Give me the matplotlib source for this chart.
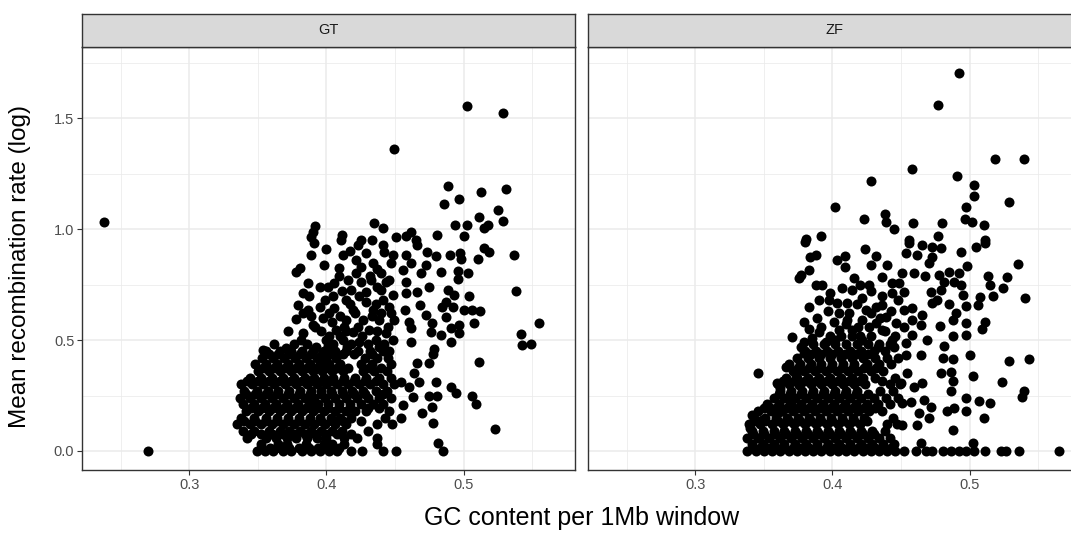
import matplotlib
matplotlib.use("Agg")
import matplotlib.pyplot as plt
from matplotlib.ticker import MultipleLocator
import numpy as np

plt.rcParams["font.family"] = ["Liberation Sans", "DejaVu Sans"]

# ---------------- data: GC content vs mean recombination rate (log) ----------------
panels = ["GT", "ZF"]
x_ticks = [0.3, 0.4, 0.5]
y_ticks = [0.0, 0.5, 1.0, 1.5]

gt_gc = [
    0.238, 0.270, 0.4495, 0.5025, 0.529,
    0.392, 0.390, 0.389, 0.435, 0.4415, 0.411, 0.4255, 0.4335, 0.451,
    0.489, 0.4856, 0.497, 0.5127, 0.5307, 0.525, 0.5287, 0.511, 0.5176, 0.515, 0.4936, 0.5025, 0.5004, 0.4805, 0.4618, 0.458, 0.465,
    0.5367, 0.5384, 0.555, 0.5416, 0.5428, 0.5496, 0.515, 0.5185, 0.5105, 0.4975, 0.490, 0.498, 0.496, 0.503, 0.496, 0.4834,
    0.480, 0.4737, 0.4664, 0.458, 0.4616, 0.4725, 0.4689, 0.4555, 0.458, 0.475, 0.4664, 0.458, 0.489, 0.493, 0.504, 0.487,
    0.4846, 0.492, 0.5004, 0.5064, 0.5118, 0.5076, 0.487, 0.4725, 0.468, 0.457, 0.4604, 0.4616, 0.4773, 0.4761, 0.4834, 0.4907,
    0.4967, 0.4967, 0.4907, 0.4616, 0.4785,
    0.5113, 0.5229, 0.4817, 0.4853, 0.478, 0.475, 0.4664, 0.464, 0.4676, 0.4798, 0.4907, 0.4948, 0.506, 0.5093, 0.481, 0.475,
    0.4604, 0.4628, 0.4543, 0.4555, 0.4773, 0.470, 0.478, 0.4543,
    0.378, 0.381, 0.389, 0.391, 0.3864, 0.3828, 0.395, 0.4058, 0.401, 0.379, 0.3864, 0.395, 0.378, 0.390, 0.3828, 0.3816,
    0.4058, 0.4095, 0.4119, 0.4107, 0.4228, 0.4289, 0.4216, 0.4337, 0.4422, 0.4482, 0.4216, 0.4325, 0.4434, 0.418, 0.4289,
    0.4398, 0.4482, 0.4143, 0.4289, 0.4191, 0.4337, 0.4458, 0.4143, 0.4264, 0.4385, 0.4495, 0.407, 0.4191, 0.4313, 0.4434,
    0.3998, 0.4119, 0.424, 0.4361, 0.4482, 0.3925, 0.3707, 0.3537,
    0.4045, 0.4240, 0.4410, 0.4100, 0.4330, 0.4450, 0.4130, 0.4020, 0.4260, 0.4380, 0.4150, 0.4010, 0.4460, 0.4320, 0.4160,
    0.4400, 0.4250, 0.4470, 0.3975, 0.3890, 0.4100,
    0.362, 0.376, 0.386, 0.405, 0.418, 0.430, 0.442,
    0.372, 0.396, 0.414, 0.437,
    0.383, 0.402, 0.421, 0.440,
    0.392, 0.404, 0.417, 0.436, 0.447, 0.423, 0.399, 0.411, 0.437, 0.425, 0.446, 0.409, 0.398, 0.437, 0.417, 0.441,
    0.400, 0.387,
    # dense band below 0.45
    0.349, 0.355, 0.361, 0.368, 0.374, 0.382, 0.389, 0.395, 0.402, 0.408, 0.418, 0.426, 0.441, 0.451,
    0.352, 0.359, 0.366, 0.373, 0.380, 0.387, 0.394, 0.401, 0.409,
    0.352, 0.365, 0.371, 0.385, 0.398, 0.404, 0.413, 0.437,
    0.342, 0.356, 0.363, 0.371, 0.378, 0.386, 0.393, 0.400, 0.413, 0.422, 0.437,
    0.345, 0.352, 0.360, 0.368, 0.376, 0.384, 0.392, 0.400, 0.408, 0.418,
    0.339, 0.347, 0.358, 0.366, 0.373, 0.381, 0.389, 0.396, 0.404, 0.411, 0.430,
    0.335, 0.344, 0.352, 0.360, 0.368, 0.376, 0.384, 0.391, 0.399, 0.406, 0.414, 0.437, 0.448,
    0.340, 0.348, 0.356, 0.364, 0.372, 0.380, 0.388, 0.396, 0.404, 0.412, 0.425,
    0.338, 0.347, 0.356, 0.364, 0.372, 0.380, 0.388, 0.395, 0.403, 0.410, 0.418, 0.443,
    0.341, 0.350, 0.358, 0.366, 0.374, 0.382, 0.390, 0.398, 0.406, 0.414, 0.421, 0.429, 0.446,
    0.345, 0.353, 0.361, 0.369, 0.377, 0.385, 0.393, 0.401, 0.409, 0.417, 0.430, 0.438,
    0.339, 0.347, 0.355, 0.363, 0.371, 0.379, 0.387, 0.394, 0.401, 0.409, 0.417, 0.425, 0.434, 0.441,
    0.337, 0.344, 0.352, 0.360, 0.368, 0.376, 0.384, 0.391, 0.399, 0.406, 0.414, 0.422, 0.430, 0.438, 0.447,
    0.341, 0.348, 0.356, 0.364, 0.372, 0.380, 0.388, 0.396, 0.404, 0.412, 0.420, 0.428, 0.441,
    0.340, 0.349, 0.357, 0.365, 0.373, 0.381, 0.389, 0.396, 0.403, 0.411, 0.419, 0.427, 0.436, 0.444,
    0.338, 0.346, 0.354, 0.362, 0.370, 0.378, 0.386, 0.393, 0.400, 0.408, 0.416, 0.424, 0.432, 0.441, 0.449,
    0.342, 0.350, 0.358, 0.366, 0.374, 0.382, 0.389, 0.397, 0.404, 0.412, 0.420, 0.428, 0.436,
    0.344, 0.352, 0.360, 0.368, 0.376, 0.384, 0.391, 0.398, 0.405, 0.413, 0.421, 0.429, 0.438, 0.447,
    0.350, 0.358, 0.366, 0.374, 0.382, 0.390, 0.397, 0.404, 0.412, 0.427, 0.435, 0.444,
    0.354, 0.362, 0.370, 0.378, 0.386, 0.393, 0.401, 0.408, 0.416, 0.431, 0.440,
    0.348, 0.356, 0.364, 0.372, 0.380, 0.388, 0.395, 0.402, 0.410, 0.425, 0.433, 0.447,
    0.353, 0.361, 0.369, 0.377, 0.385, 0.393, 0.400, 0.407, 0.428, 0.437, 0.445,
    0.358, 0.365, 0.373, 0.381, 0.389, 0.397, 0.404, 0.412, 0.420, 0.433,
    0.356, 0.366, 0.374, 0.382, 0.390, 0.398, 0.406, 0.414, 0.423, 0.432, 0.441,
]
gt_rec = [
    1.030, 0.000, 1.360, 1.555, 1.524,
    1.014, 0.986, 0.964, 1.027, 1.004, 0.973, 0.950, 0.950, 0.964,
    1.195, 1.114, 1.137, 1.168, 1.180, 1.084, 1.037, 1.054, 1.018, 1.003, 1.018, 1.018, 0.970, 0.973, 0.988, 0.968, 0.950,
    0.883, 0.719, 0.578, 0.526, 0.477, 0.482, 0.913, 0.895, 0.865, 0.893, 0.883, 0.863, 0.812, 0.800, 0.773, 0.808,
    0.878, 0.898, 0.928, 0.883, 0.845, 0.838, 0.800, 0.815, 0.763, 0.740, 0.718, 0.710, 0.725, 0.703, 0.698, 0.672,
    0.650, 0.650, 0.635, 0.635, 0.632, 0.578, 0.605, 0.613, 0.658, 0.635, 0.583, 0.553, 0.575, 0.537, 0.523, 0.553,
    0.568, 0.530, 0.492, 0.492, 0.458,
    0.400, 0.098, 0.037, 0.000, 0.437, 0.395, 0.395, 0.350, 0.309, 0.309, 0.287, 0.260, 0.249, 0.212, 0.249, 0.249,
    0.290, 0.245, 0.312, 0.207, 0.200, 0.170, 0.128, 0.147,
    0.805, 0.823, 0.883, 0.935, 0.758, 0.713, 0.740, 0.755, 0.740, 0.658, 0.635, 0.650, 0.593, 0.568, 0.530, 0.500,
    0.643, 0.823, 0.883, 0.950, 0.928, 0.890, 0.860, 0.845, 0.898, 0.883, 0.800, 0.770, 0.763, 0.725, 0.718,
    0.725, 0.703, 0.680, 0.672, 0.635, 0.635, 0.650, 0.590, 0.590, 0.590, 0.590, 0.545, 0.537, 0.545, 0.530,
    0.500, 0.500, 0.492, 0.500, 0.500, 0.470, 0.463, 0.455,
    0.700, 0.700, 0.680, 0.610, 0.610, 0.560, 0.560, 0.520, 0.520, 0.470, 0.470, 0.475, 0.450, 0.790, 0.770,
    0.800, 0.830, 0.845, 0.600, 0.610, 0.520,
    0.480, 0.480, 0.480, 0.480, 0.480, 0.480, 0.480,
    0.540, 0.540, 0.540, 0.540,
    0.620, 0.620, 0.620, 0.620,
    0.560, 0.580, 0.660, 0.660, 0.620, 0.560, 0.680, 0.720, 0.740, 0.760, 0.770, 0.790, 0.840, 0.820, 0.900, 0.930,
    0.910, 0.700,
    0.000, 0.000, 0.000, 0.000, 0.000, 0.000, 0.000, 0.000, 0.000, 0.000, 0.000, 0.000, 0.000, 0.000,
    0.015, 0.015, 0.015, 0.015, 0.015, 0.015, 0.015, 0.015, 0.015,
    0.030, 0.030, 0.030, 0.030, 0.030, 0.030, 0.030, 0.030,
    0.060, 0.060, 0.060, 0.060, 0.060, 0.060, 0.060, 0.060, 0.060, 0.060, 0.060,
    0.075, 0.075, 0.075, 0.075, 0.075, 0.075, 0.075, 0.075, 0.075, 0.075,
    0.090, 0.090, 0.090, 0.090, 0.090, 0.090, 0.090, 0.090, 0.090, 0.090, 0.090,
    0.120, 0.120, 0.120, 0.120, 0.120, 0.120, 0.120, 0.120, 0.120, 0.120, 0.120, 0.120, 0.120,
    0.135, 0.135, 0.135, 0.135, 0.135, 0.135, 0.135, 0.135, 0.135, 0.135, 0.135,
    0.150, 0.150, 0.150, 0.150, 0.150, 0.150, 0.150, 0.150, 0.150, 0.150, 0.150, 0.150,
    0.180, 0.180, 0.180, 0.180, 0.180, 0.180, 0.180, 0.180, 0.180, 0.180, 0.180, 0.180, 0.180,
    0.195, 0.195, 0.195, 0.195, 0.195, 0.195, 0.195, 0.195, 0.195, 0.195, 0.195, 0.195,
    0.210, 0.210, 0.210, 0.210, 0.210, 0.210, 0.210, 0.210, 0.210, 0.210, 0.210, 0.210, 0.210, 0.210,
    0.240, 0.240, 0.240, 0.240, 0.240, 0.240, 0.240, 0.240, 0.240, 0.240, 0.240, 0.240, 0.240, 0.240, 0.240,
    0.255, 0.255, 0.255, 0.255, 0.255, 0.255, 0.255, 0.255, 0.255, 0.255, 0.255, 0.255, 0.255,
    0.270, 0.270, 0.270, 0.270, 0.270, 0.270, 0.270, 0.270, 0.270, 0.270, 0.270, 0.270, 0.270, 0.270,
    0.300, 0.300, 0.300, 0.300, 0.300, 0.300, 0.300, 0.300, 0.300, 0.300, 0.300, 0.300, 0.300, 0.300, 0.300,
    0.315, 0.315, 0.315, 0.315, 0.315, 0.315, 0.315, 0.315, 0.315, 0.315, 0.315, 0.315, 0.315,
    0.330, 0.330, 0.330, 0.330, 0.330, 0.330, 0.330, 0.330, 0.330, 0.330, 0.330, 0.330, 0.330, 0.330,
    0.360, 0.360, 0.360, 0.360, 0.360, 0.360, 0.360, 0.360, 0.360, 0.360, 0.360, 0.360,
    0.375, 0.375, 0.375, 0.375, 0.375, 0.375, 0.375, 0.375, 0.375, 0.375, 0.375,
    0.390, 0.390, 0.390, 0.390, 0.390, 0.390, 0.390, 0.390, 0.390, 0.390, 0.390, 0.390,
    0.420, 0.420, 0.420, 0.420, 0.420, 0.420, 0.420, 0.420, 0.420, 0.420, 0.420,
    0.435, 0.435, 0.435, 0.435, 0.435, 0.435, 0.435, 0.435, 0.435, 0.435,
    0.450, 0.450, 0.450, 0.450, 0.450, 0.450, 0.450, 0.450, 0.450, 0.450, 0.450,
]

zf_gc = [
    0.4927, 0.4773, 0.5188, 0.5395, 0.4583, 0.4908, 0.503, 0.503, 0.5285, 0.4978, 0.4966, 0.5015, 0.5107, 0.4591, 0.4798,
    0.4771, 0.4559, 0.5115,
    0.4284, 0.402, 0.423, 0.4382, 0.4389, 0.445, 0.3804, 0.3914,
    0.5351, 0.5402, 0.5273, 0.5132, 0.5241, 0.5149, 0.5173, 0.5078, 0.5064, 0.5115, 0.5091, 0.5047, 0.5115, 0.4937, 0.4981,
    0.4559, 0.4656, 0.473, 0.4791, 0.4535, 0.462, 0.473, 0.4705, 0.4596, 0.4676, 0.451, 0.4486, 0.4523, 0.4778, 0.4852,
    0.4925, 0.4815, 0.4888, 0.4937, 0.4718, 0.4791, 0.4949, 0.4766, 0.473, 0.4852, 0.4974, 0.490, 0.4876, 0.4974, 0.4974,
    0.4876, 0.4786, 0.4815, 0.4693, 0.4645, 0.4583, 0.4583, 0.4523, 0.4523, 0.4583, 0.4535, 0.4656,
    0.5436, 0.529, 0.5395, 0.5383, 0.5234, 0.5151, 0.507, 0.5107, 0.4974, 0.4974, 0.4876, 0.4888, 0.4839, 0.5003, 0.5027,
    0.4864, 0.4791, 0.4876, 0.4864, 0.4876, 0.4803, 0.4645, 0.4535, 0.4547, 0.4596, 0.4656, 0.4498, 0.4669, 0.4718, 0.4572,
    0.451, 0.4632, 0.4705, 0.462, 0.451, 0.4645, 0.5022,
    0.4238, 0.4316, 0.440, 0.4279, 0.3877, 0.3833, 0.3799, 0.4035, 0.4091, 0.4091, 0.3828, 0.3768, 0.3755, 0.3877, 0.3925,
    0.4072, 0.4157, 0.4145, 0.4267, 0.4364, 0.4437, 0.3901, 0.3974, 0.4035, 0.4108, 0.3828, 0.4218, 0.4243, 0.4316, 0.4364,
    0.4437, 0.4218, 0.3792, 0.3706, 0.3792, 0.3901, 0.4011, 0.4108, 0.4048, 0.4145, 0.4316, 0.4389, 0.4364, 0.4462, 0.395,
    0.4218, 0.4437,
    0.3458, 0.3658, 0.3597, 0.3621, 0.3731, 0.3755, 0.3792, 0.3414, 0.3402, 0.3536, 0.3487, 0.3463, 0.3609, 0.3694,
    0.386, 0.394, 0.402, 0.410, 0.418, 0.426, 0.434, 0.442,
    0.398, 0.406, 0.414, 0.428, 0.446,
    0.392, 0.419, 0.427,
    0.383, 0.389, 0.397, 0.405, 0.412, 0.418, 0.428, 0.435, 0.443, 0.448, 0.436, 0.428, 0.420, 0.398, 0.385, 0.402,
    0.420, 0.438, 0.445, 0.377, 0.410, 0.433,
    # dense band below 0.45
    0.338, 0.344, 0.350, 0.356, 0.362, 0.368, 0.374, 0.380, 0.386, 0.392, 0.398, 0.404, 0.410, 0.416, 0.422, 0.428, 0.434,
    0.440, 0.446, 0.4523, 0.4608, 0.4681, 0.473, 0.4803, 0.4864, 0.4925, 0.4974, 0.5034, 0.5115, 0.523, 0.5266, 0.5363, 0.565,
    0.341, 0.347, 0.353, 0.359, 0.365, 0.371, 0.377, 0.383, 0.389, 0.395, 0.401, 0.407, 0.413, 0.419, 0.425, 0.431, 0.437, 0.443,
    0.341, 0.349, 0.357, 0.365, 0.373, 0.381, 0.389, 0.397, 0.405, 0.413, 0.421, 0.429, 0.437, 0.445,
    0.338, 0.346, 0.354, 0.362, 0.370, 0.378, 0.386, 0.394, 0.402, 0.410, 0.418, 0.426, 0.434, 0.442,
    0.342, 0.350, 0.358, 0.366, 0.374, 0.382, 0.390, 0.398, 0.406, 0.414, 0.422, 0.430,
    0.341, 0.349, 0.357, 0.365, 0.373, 0.381, 0.389, 0.397, 0.405, 0.413, 0.421, 0.429, 0.438,
    0.339, 0.347, 0.356, 0.364, 0.372, 0.380, 0.388, 0.396, 0.404, 0.412, 0.420, 0.440, 0.447,
    0.343, 0.351, 0.360, 0.368, 0.376, 0.384, 0.392, 0.400, 0.408, 0.416, 0.425,
    0.343, 0.351, 0.359, 0.367, 0.375, 0.383, 0.391, 0.399, 0.407, 0.415, 0.423, 0.444,
    0.346, 0.355, 0.363, 0.371, 0.379, 0.387, 0.395, 0.403, 0.411, 0.419, 0.427, 0.436,
    0.350, 0.359, 0.367, 0.375, 0.383, 0.391, 0.399, 0.407, 0.415, 0.423, 0.431,
    0.352, 0.361, 0.369, 0.377, 0.385, 0.393, 0.401, 0.409, 0.417, 0.425, 0.433, 0.442,
    0.357, 0.365, 0.373, 0.381, 0.389, 0.397, 0.405, 0.413, 0.421, 0.430, 0.439, 0.448,
    0.361, 0.369, 0.377, 0.385, 0.393, 0.401, 0.409, 0.417, 0.426,
    0.362, 0.370, 0.378, 0.386, 0.394, 0.402, 0.410, 0.418, 0.435, 0.444,
    0.360, 0.368, 0.376, 0.384, 0.392, 0.400, 0.408, 0.416, 0.424, 0.442, 0.449,
    0.364, 0.372, 0.380, 0.388, 0.396, 0.404, 0.412, 0.420, 0.436,
    0.366, 0.374, 0.382, 0.390, 0.398, 0.406, 0.414, 0.422, 0.431, 0.446,
    0.371, 0.379, 0.387, 0.395, 0.403, 0.411, 0.419, 0.428, 0.437,
    0.375, 0.383, 0.391, 0.399, 0.407, 0.415, 0.423, 0.432,
    0.368, 0.376, 0.384, 0.392, 0.400, 0.408, 0.416, 0.425, 0.434, 0.443,
    0.374, 0.382, 0.390, 0.398, 0.406, 0.414, 0.422, 0.431, 0.440, 0.448,
    0.384, 0.392, 0.400, 0.409, 0.417, 0.426,
    0.380, 0.388, 0.396, 0.404, 0.413, 0.421, 0.430, 0.438,
]
zf_rec = [
    1.704, 1.557, 1.314, 1.317, 1.272, 1.239, 1.198, 1.149, 1.123, 1.099, 1.046, 1.033, 1.017, 1.028, 1.028,
    0.968, 0.950, 0.950,
    1.216, 1.099, 1.044, 1.066, 1.033, 1.001, 0.956, 0.968,
    0.842, 0.688, 0.782, 0.788, 0.733, 0.748, 0.698, 0.695, 0.658, 0.583, 0.548, 0.920, 0.935, 0.898, 0.835,
    0.935, 0.928, 0.920, 0.913, 0.890, 0.883, 0.875, 0.845, 0.800, 0.788, 0.800, 0.755, 0.718, 0.793, 0.808,
    0.800, 0.763, 0.763, 0.748, 0.718, 0.725, 0.703, 0.680, 0.665, 0.662, 0.653, 0.620, 0.590, 0.575, 0.523,
    0.518, 0.564, 0.473, 0.500, 0.568, 0.590, 0.643, 0.635, 0.560, 0.523, 0.485, 0.613,
    0.413, 0.405, 0.272, 0.245, 0.309, 0.218, 0.227, 0.147, 0.237, 0.182, 0.095, 0.192, 0.182, 0.432, 0.339,
    0.357, 0.353, 0.317, 0.272, 0.413, 0.418, 0.432, 0.432, 0.350, 0.290, 0.305, 0.305, 0.230, 0.200, 0.222,
    0.215, 0.170, 0.147, 0.117, 0.117, 0.035, 0.035,
    0.908, 0.878, 0.838, 0.838, 0.883, 0.875, 0.943, 0.860, 0.878, 0.830, 0.815, 0.793, 0.778, 0.748, 0.748,
    0.733, 0.778, 0.725, 0.748, 0.785, 0.755, 0.680, 0.680, 0.665, 0.665, 0.650, 0.688, 0.635, 0.650, 0.658,
    0.710, 0.590, 0.583, 0.515, 0.492, 0.537, 0.583, 0.590, 0.545, 0.545, 0.575, 0.605, 0.545, 0.575, 0.492,
    0.500, 0.500,
    0.353, 0.380, 0.305, 0.282, 0.342, 0.297, 0.440, 0.162, 0.102, 0.200, 0.140, 0.057, 0.177, 0.215,
    0.480, 0.480, 0.480, 0.480, 0.480, 0.480, 0.480, 0.480,
    0.520, 0.520, 0.520, 0.520, 0.520,
    0.560, 0.560, 0.560,
    0.550, 0.600, 0.630, 0.620, 0.620, 0.660, 0.620, 0.600, 0.630, 0.680, 0.700, 0.720, 0.750, 0.710, 0.510, 0.500,
    0.520, 0.540, 0.470, 0.470, 0.570, 0.470,
    0.000, 0.000, 0.000, 0.000, 0.000, 0.000, 0.000, 0.000, 0.000, 0.000, 0.000, 0.000, 0.000, 0.000, 0.000, 0.000, 0.000,
    0.000, 0.000, 0.000, 0.000, 0.000, 0.000, 0.000, 0.000, 0.000, 0.000, 0.000, 0.000, 0.000, 0.000, 0.000, 0.000,
    0.015, 0.015, 0.015, 0.015, 0.015, 0.015, 0.015, 0.015, 0.015, 0.015, 0.015, 0.015, 0.015, 0.015, 0.015, 0.015, 0.015, 0.015,
    0.030, 0.030, 0.030, 0.030, 0.030, 0.030, 0.030, 0.030, 0.030, 0.030, 0.030, 0.030, 0.030, 0.030,
    0.060, 0.060, 0.060, 0.060, 0.060, 0.060, 0.060, 0.060, 0.060, 0.060, 0.060, 0.060, 0.060, 0.060,
    0.075, 0.075, 0.075, 0.075, 0.075, 0.075, 0.075, 0.075, 0.075, 0.075, 0.075, 0.075,
    0.090, 0.090, 0.090, 0.090, 0.090, 0.090, 0.090, 0.090, 0.090, 0.090, 0.090, 0.090, 0.090,
    0.120, 0.120, 0.120, 0.120, 0.120, 0.120, 0.120, 0.120, 0.120, 0.120, 0.120, 0.120, 0.120,
    0.135, 0.135, 0.135, 0.135, 0.135, 0.135, 0.135, 0.135, 0.135, 0.135, 0.135,
    0.150, 0.150, 0.150, 0.150, 0.150, 0.150, 0.150, 0.150, 0.150, 0.150, 0.150, 0.150,
    0.180, 0.180, 0.180, 0.180, 0.180, 0.180, 0.180, 0.180, 0.180, 0.180, 0.180, 0.180,
    0.195, 0.195, 0.195, 0.195, 0.195, 0.195, 0.195, 0.195, 0.195, 0.195, 0.195,
    0.210, 0.210, 0.210, 0.210, 0.210, 0.210, 0.210, 0.210, 0.210, 0.210, 0.210, 0.210,
    0.240, 0.240, 0.240, 0.240, 0.240, 0.240, 0.240, 0.240, 0.240, 0.240, 0.240, 0.240,
    0.255, 0.255, 0.255, 0.255, 0.255, 0.255, 0.255, 0.255, 0.255,
    0.270, 0.270, 0.270, 0.270, 0.270, 0.270, 0.270, 0.270, 0.270, 0.270,
    0.300, 0.300, 0.300, 0.300, 0.300, 0.300, 0.300, 0.300, 0.300, 0.300, 0.300,
    0.315, 0.315, 0.315, 0.315, 0.315, 0.315, 0.315, 0.315, 0.315,
    0.330, 0.330, 0.330, 0.330, 0.330, 0.330, 0.330, 0.330, 0.330, 0.330,
    0.360, 0.360, 0.360, 0.360, 0.360, 0.360, 0.360, 0.360, 0.360,
    0.375, 0.375, 0.375, 0.375, 0.375, 0.375, 0.375, 0.375,
    0.390, 0.390, 0.390, 0.390, 0.390, 0.390, 0.390, 0.390, 0.390, 0.390,
    0.420, 0.420, 0.420, 0.420, 0.420, 0.420, 0.420, 0.420, 0.420, 0.420,
    0.435, 0.435, 0.435, 0.435, 0.435, 0.435,
    0.450, 0.450, 0.450, 0.450, 0.450, 0.450, 0.450, 0.450,
]

# ---------------- layout (theme_bw look) ----------------
W, H = 1071, 534
fig = plt.figure(figsize=(W / 100, H / 100), dpi=100)
fig.patch.set_facecolor("white")

panel_w = 493
panel_left = [82, 588]
panel_top, panel_bottom = 47, 470
strip_h = 33

series = {"GT": (gt_gc, gt_rec), "ZF": (zf_gc, zf_rec)}

all_x = np.array(gt_gc + zf_gc)
xr = all_x.max() - all_x.min()
xlim = (all_x.min() - 0.05 * xr, all_x.max() + 0.05 * xr)
ylim = (-0.0856, 1.82)

border = "#333333"
grid_c = "#EBEBEB"

for i, name in enumerate(panels):
    x0 = panel_left[i]
    ax = fig.add_axes([x0 / W, 1 - panel_bottom / H, panel_w / W, (panel_bottom - panel_top) / H])
    gx, gy = series[name]
    ax.set_xlim(*xlim)
    ax.set_ylim(*ylim)
    ax.xaxis.set_major_locator(MultipleLocator(0.1))
    ax.xaxis.set_minor_locator(MultipleLocator(0.05))
    ax.yaxis.set_major_locator(MultipleLocator(0.5))
    ax.yaxis.set_minor_locator(MultipleLocator(0.25))
    ax.grid(which="major", color=grid_c, linewidth=1.1, zorder=0)
    ax.grid(which="minor", color=grid_c, linewidth=0.55, zorder=0)
    ax.set_axisbelow(True)
    ax.scatter(gx, gy, s=52, color="black", linewidths=0, zorder=3)
    ax.set_xticks(x_ticks)
    ax.set_xticklabels([f"{v:.1f}" for v in x_ticks])
    ax.set_yticks(y_ticks)
    ax.tick_params(which="minor", length=0)
    ax.tick_params(which="major", length=3.5, width=0.8, color=border,
                   labelsize=10.5, labelcolor="#4D4D4D", pad=2)
    if i == 0:
        ax.set_yticklabels([f"{v:.1f}" for v in y_ticks])
    else:
        ax.tick_params(axis="y", left=False, labelleft=False)
    for sp in ax.spines.values():
        sp.set_color(border)
        sp.set_linewidth(1.0)

    # facet strip
    sax = fig.add_axes([x0 / W, 1 - panel_top / H, panel_w / W, strip_h / H])
    sax.set_xlim(0, 1)
    sax.set_ylim(0, 1)
    sax.set_xticks([])
    sax.set_yticks([])
    sax.set_facecolor("#D9D9D9")
    for sp in sax.spines.values():
        sp.set_color(border)
        sp.set_linewidth(1.0)
    sax.text(0.5, 0.5, name, ha="center", va="center", fontsize=10.5, color="#1A1A1A")

fig.text((panel_left[0] + panel_left[1] + panel_w) / 2 / W, 1 - 518 / H, "GC content per 1Mb window",
         ha="center", va="center", fontsize=18)
fig.text(20 / W, 1 - 266 / H, "Mean recombination rate (log)", ha="center", va="center",
         rotation=90, fontsize=17.5)

fig.savefig("out.png", dpi=100, facecolor="white")
